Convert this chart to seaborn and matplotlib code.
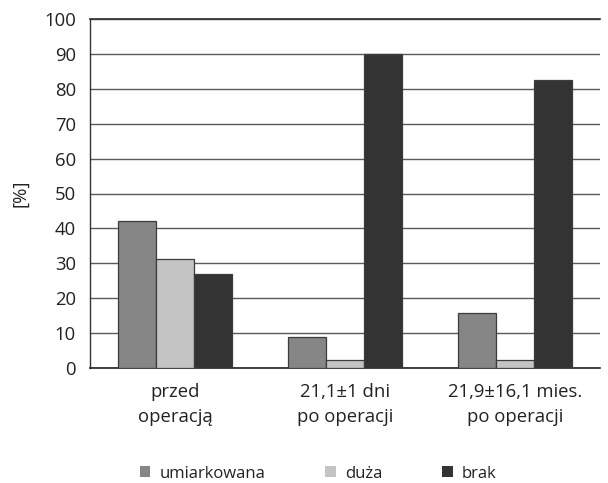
import matplotlib
matplotlib.use("Agg")
import matplotlib.pyplot as plt
import seaborn as sns
import pandas as pd

# Data
categories = ["przed\noperacją", "21,1±1 dni\npo operacji", "21,9±16,1 mies.\npo operacji"]
series_names = ["umiarkowana", "duża", "brak"]
umiarkowana = [42.2, 8.8, 15.7]
duza = [31.2, 2.2, 2.2]
brak = [26.8, 90.0, 82.4]
y_ticks = [0, 10, 20, 30, 40, 50, 60, 70, 80, 90, 100]

colors = ["#868686", "#c4c4c4", "#333333"]

rows = []
for name, vals in zip(series_names, [umiarkowana, duza, brak]):
    for cat, v in zip(categories, vals):
        rows.append({"kategoria": cat, "stopień": name, "wartość": v})
df = pd.DataFrame(rows)

sns.set_theme(style="white")
plt.rcParams["font.family"] = ["Open Sans", "DejaVu Sans"]

fs = 13.3

fig = plt.figure(figsize=(6.08, 4.83), dpi=100)
ax = fig.add_axes([90 / 608, 1 - 368 / 483, 510 / 608, 349 / 483])

sns.barplot(data=df, x="kategoria", y="wartość", hue="stopień",
            order=categories, hue_order=series_names, palette=colors,
            width=0.667, edgecolor="#3c3c3c", linewidth=0.9,
            saturation=1, ax=ax, zorder=3)

ax.set_ylim(0, 100)
ax.set_yticks(y_ticks)
ax.yaxis.grid(True, color="#5a5a5a", linewidth=1.0, zorder=0)
ax.set_axisbelow(True)
ax.set_xlim(-0.5, 2.5)

ax.spines["right"].set_visible(False)
ax.spines["top"].set_color("#333333")
ax.spines["left"].set_color("#333333")
ax.spines["bottom"].set_color("#222222")
ax.spines["left"].set_linewidth(1.0)
ax.spines["bottom"].set_linewidth(1.2)

ax.tick_params(axis="y", which="major", direction="out", length=5.8, width=1,
               color="#333333", labelsize=fs, labelcolor="#222222", pad=4.3)
ax.tick_params(axis="x", length=0, labelsize=fs, labelcolor="#222222", pad=10.5)
for lbl in ax.get_xticklabels():
    lbl.set_linespacing(1.5)

ax.set_xlabel("")
ax.set_ylabel("[%]", fontsize=fs, color="#222222")
ax.yaxis.set_label_coords((29 - 90) / 510, 0.5)

handles, labels = ax.get_legend_handles_labels()
for h in handles:
    h.set_edgecolor("none")
ax.legend(handles, labels, loc="center left", bbox_to_anchor=(140 / 608, 1 - 473.5 / 483),
          bbox_transform=fig.transFigure, ncol=3, frameon=False, fontsize=12,
          handlelength=0.62, handleheight=0.62, handletextpad=0.55,
          columnspacing=3.6, borderpad=0, borderaxespad=0, labelcolor="#222222")

fig.savefig("out.png", dpi=100)
